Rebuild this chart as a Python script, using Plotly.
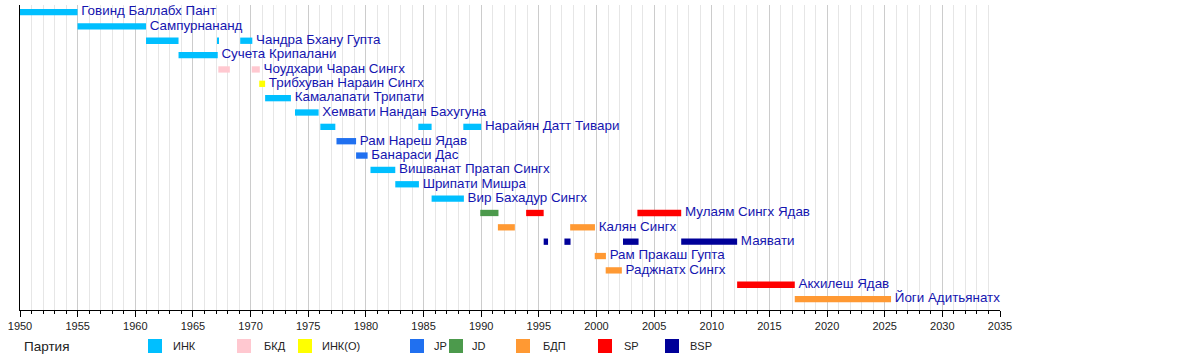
import plotly.graph_objects as go

# ---- data ----
row_names = [
    "Говинд Баллабх Пант", "Сампурнананд", "Чандра Бхану Гупта", "Сучета Крипалани",
    "Чоудхари Чаран Сингх", "Трибхуван Нараин Сингх", "Камалапати Трипати",
    "Хемвати Нандан Бахугуна", "Нарайян Датт Тивари", "Рам Нареш Ядав", "Банараси Дас",
    "Вишванат Пратап Сингх", "Шрипати Мишра", "Вир Бахадур Сингх", "Мулаям Сингх Ядав",
    "Калян Сингх", "Маявати", "Рам Пракаш Гупта", "Раджнатх Сингх", "Акхилеш Ядав",
    "Йоги Адитьянатх",
]

term_rows = [0, 1, 2, 2, 2, 3, 4, 4, 5, 6, 7, 8, 8, 8, 9, 10, 11, 12, 13,
             14, 14, 14, 15, 15, 16, 16, 16, 16, 17, 18, 19, 20]
term_starts = [1950.0, 1954.99, 1960.93, 1967.15, 1969.1, 1963.75, 1967.2, 1970.1, 1970.75,
               1971.26, 1973.85, 1976.05, 1984.55, 1988.45, 1977.45, 1979.15, 1980.4,
               1982.55, 1985.7, 1989.92, 1993.9, 2003.55, 1991.45, 1997.72, 1995.42,
               1997.22, 2002.3, 2007.35, 1999.85, 2000.8, 2012.2, 2017.2]
term_ends = [1954.99, 1960.93, 1963.75, 1967.2, 1970.15, 1967.15, 1968.2, 1970.8, 1971.26,
             1973.5, 1975.9, 1977.35, 1985.7, 1990.0, 1979.15, 1980.15, 1982.55,
             1984.6, 1988.5, 1991.5, 1995.42, 2007.35, 1992.92, 1999.87, 1995.8,
             1997.75, 2003.65, 2012.2, 2000.82, 2002.2, 2017.2, 2025.55]
term_parties = ["ИНК", "ИНК", "ИНК", "ИНК", "ИНК", "ИНК", "БКД", "БКД", "ИНК(О)",
                "ИНК", "ИНК", "ИНК", "ИНК", "ИНК", "JP", "JP", "ИНК", "ИНК", "ИНК",
                "JD", "SP", "SP", "БДП", "БДП", "BSP", "BSP", "BSP", "BSP",
                "БДП", "БДП", "SP", "БДП"]

party_names = ["ИНК", "БКД", "ИНК(О)", "JP", "JD", "БДП", "SP", "BSP"]
party_colors = ["#00BFFF", "#FFC8D0", "#FFFF00", "#2070F0", "#4C9A4C", "#FF9933", "#FF0000", "#000099"]

x_start_year = 1950
x_end_year = 2035

FONT = "Liberation Sans, Arial, sans-serif"

# ---- figure ----
fig = go.Figure()

for pname, pcolor in zip(party_names, party_colors):
    idx = [i for i, p in enumerate(term_parties) if p == pname]
    fig.add_trace(go.Bar(
        orientation="h",
        y=[term_rows[i] for i in idx],
        base=[term_starts[i] for i in idx],
        x=[term_ends[i] - term_starts[i] for i in idx],
        marker=dict(color=pcolor, line=dict(width=0)),
        width=0.44,
        name=pname,
        hoverinfo="skip",
    ))

# labels at the end of the last bar of each row
label_x = []
for r in range(len(row_names)):
    label_x.append(max(term_ends[i] for i in range(len(term_rows)) if term_rows[i] == r))
fig.add_trace(go.Scatter(
    x=label_x, y=list(range(len(row_names))), text=[" " + n for n in row_names],
    mode="text", textposition="middle right",
    textfont=dict(family=FONT, size=13.4, color="#1515b0"),
    cliponaxis=False, hoverinfo="skip",
))

L, R, T, B = 20, 200, 5, 50
W, H = 1200, 360
pw, ph = W - L - R, H - T - B


def px_x(px):
    return (px - L) / pw


def px_y(py):
    return (H - B - py) / ph


shapes = []
annotations = [dict(text="Партия", x=px_x(22), y=px_y(346), xref="paper", yref="paper",
                    xanchor="left", yanchor="middle", showarrow=False,
                    font=dict(family=FONT, size=13.5, color="#222"))]
legend_sq_x = [148, 237, 298, 410, 449, 516, 598, 665]
legend_tx_x = [171, 262, 320, 432, 470, 541, 622, 688]
for pname, pcolor, sx, tx in zip(party_names, party_colors, legend_sq_x, legend_tx_x):
    shapes.append(dict(type="rect", xref="paper", yref="paper",
                       x0=px_x(sx), x1=px_x(sx + 14), y0=px_y(353), y1=px_y(339),
                       fillcolor=pcolor, line=dict(width=0)))
    annotations.append(dict(text=pname, x=px_x(tx), y=px_y(346), xref="paper", yref="paper",
                            xanchor="left", yanchor="middle", showarrow=False,
                            font=dict(family=FONT, size=11, color="#222")))

fig.update_layout(
    width=W, height=H,
    margin=dict(l=L, r=R, t=T, b=B),
    paper_bgcolor="white", plot_bgcolor="white",
    showlegend=False, barmode="overlay", hovermode=False,
    shapes=shapes, annotations=annotations,
    xaxis=dict(
        range=[x_start_year, x_end_year], dtick=5, tick0=1950,
        showgrid=True, gridcolor="#cccccc", gridwidth=1,
        ticks="outside", ticklen=6, tickcolor="black", tickwidth=1,
        showline=True, linecolor="black", linewidth=1,
        zeroline=False,
        tickfont=dict(family=FONT, size=11, color="#222"),
        minor=dict(dtick=1, ticks="outside", ticklen=3, tickcolor="black",
                   showgrid=True, gridcolor="#e6e6e6", gridwidth=1),
    ),
    yaxis=dict(
        range=[20.76, -0.49], showgrid=False, zeroline=False,
        showticklabels=False, ticks="",
        showline=True, linecolor="black", linewidth=1,
    ),
)

fig.write_html("out.html", config={"displayModeBar": False},
               post_script="document.body.style.margin='0';")
